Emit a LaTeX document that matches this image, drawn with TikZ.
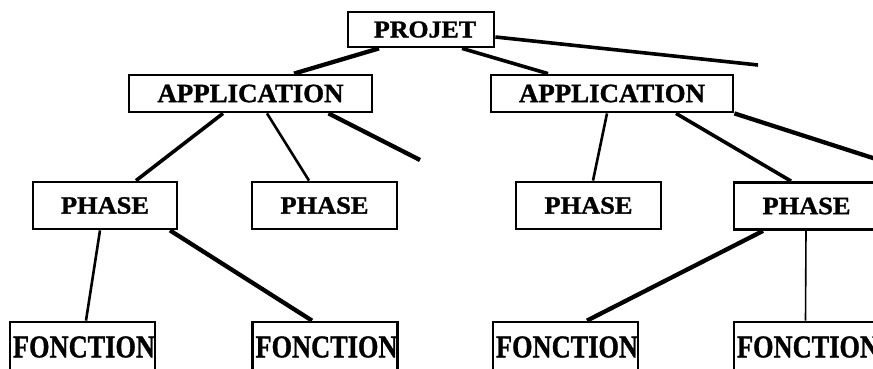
\documentclass[tikz,border=0pt]{standalone}
\usepackage{fontspec}
\setmainfont{Liberation Serif}[BoldFeatures={FakeBold=1.2}]
\usepackage{graphicx}
\usetikzlibrary{backgrounds}
\newcommand{\lbl}[3]{\resizebox{#1}{#2}{\bfseries #3}}
\begin{document}
\begin{tikzpicture}[x=1pt,y=-1pt,
  box/.style={draw, line width=2.8pt, rectangle, inner sep=0pt, fill=white},
  fbox/.style={box, minimum width=145pt, minimum height=50pt, text width=145pt, align=left},
  lw1/.style={line width=1.6pt},
  lw2/.style={line width=2.6pt},
  lw3/.style={line width=3.6pt},
  lw4/.style={line width=4.3pt}]
\useasboundingbox (0,0) rectangle (873,369);
\clip (0,0) rectangle (873,369);
% nodes
\node[box, minimum width=146pt, minimum height=35pt] (projet) at (421,29.5) {\hspace*{8pt}\lbl{102pt}{16pt}{PROJET}};
\node[box, minimum width=243pt, minimum height=37pt] (app1) at (250.5,93.5) {\lbl{186pt}{17.5pt}{APPLICATION}};
\node[box, minimum width=242pt, minimum height=37pt] (app2) at (612,93.5) {\lbl{186pt}{17.5pt}{APPLICATION}};
\node[box, minimum width=144pt, minimum height=47pt] (ph1) at (105,205.5) {\lbl{88pt}{16.5pt}{PHASE}};
\node[box, minimum width=145pt, minimum height=47pt] (ph2) at (324.5,205.5) {\lbl{88pt}{16.5pt}{PHASE}};
\node[box, minimum width=145pt, minimum height=47pt] (ph3) at (588.5,205.5) {\lbl{88pt}{16.5pt}{PHASE}};
\node[box, minimum width=145pt, minimum height=47pt] (ph4) at (806.5,206) {\lbl{88pt}{16.5pt}{PHASE}};
\node[fbox] (f1) at (82.5,347) {\hspace*{3pt}\lbl{142pt}{21pt}{FONCTION}};
\node[fbox] (f2) at (325,347) {\hspace*{3pt}\lbl{142pt}{21pt}{FONCTION}};
\node[fbox] (f3) at (565.5,347) {\hspace*{3pt}\lbl{142pt}{21pt}{FONCTION}};
\node[fbox] (f4) at (806.5,347) {\hspace*{3pt}\lbl{142pt}{21pt}{FONCTION}};
\coordinate (e1) at (758,65);
\coordinate (e2) at (420,160);
\coordinate (e3) at (880,160.3);
\begin{scope}[on background layer]
\fill[white] (0,0) rectangle (873,369);
\draw[lw4] ([xshift=-42pt]projet.south) -- ([xshift=43.5pt]app1.north);
\draw[lw3] ([xshift=41pt]projet.south) -- ([xshift=-64pt]app2.north);
\draw[lw3] ([yshift=-7.5pt]projet.east) -- (e1);
\draw[lw3] ([xshift=-27.5pt]app1.south) -- ([xshift=31pt]ph1.north);
\draw[lw2] ([xshift=16.5pt]app1.south) -- ([xshift=-15.5pt]ph2.north);
\draw[lw4] ([xshift=78pt]app1.south) -- (e2);
\draw[lw2] ([xshift=-5pt]app2.south) -- ([xshift=4.5pt]ph3.north);
\draw[lw3] ([xshift=64pt]app2.south) -- ([xshift=-15.5pt]ph4.north);
\draw[lw4] (app2.south east) -- (e3);
\draw[lw2] ([xshift=-5pt]ph1.south) -- ([xshift=3.5pt]f1.north);
\draw[lw4] ([xshift=65pt]ph1.south) -- ([xshift=-13pt]f2.north);
\draw[lw4] ([xshift=-43.5pt]ph4.south) -- ([xshift=21.5pt]f3.north);
\draw[lw1] ([xshift=-0.5pt]ph4.south) -- ([xshift=-1pt]f4.north);
\end{scope}
\end{tikzpicture}
\end{document}
